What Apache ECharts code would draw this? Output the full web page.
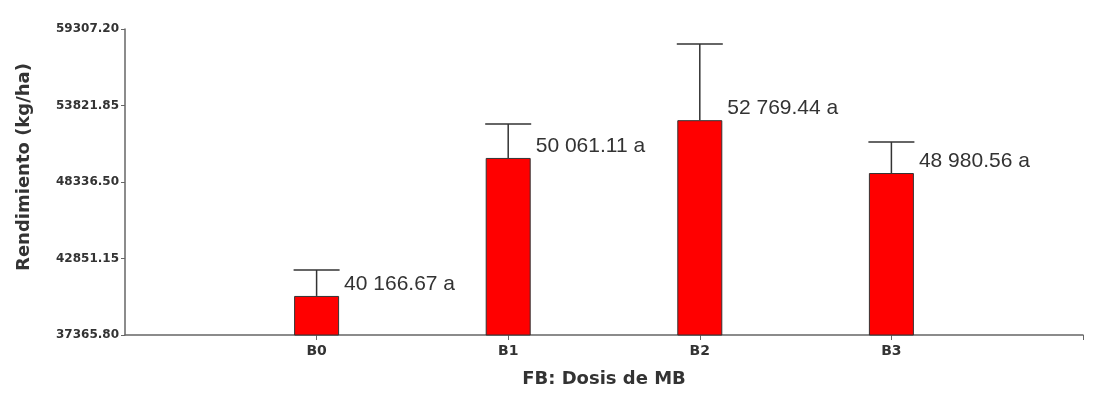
<!DOCTYPE html>
<html>
<head>
<meta charset="utf-8">
<script src="https://cdn.jsdelivr.net/npm/echarts@6/dist/echarts.min.js"></script>
<style>html,body{margin:0;padding:0;background:#fff;}#c{width:1113px;height:400px;}</style>
</head>
<body>
<div id="c"></div>
<script>
const categories = ['B0', 'B1', 'B2', 'B3'];
const means = [40166.67, 50061.11, 52769.44, 48980.56];
const errors = [1860, 2430, 5460, 2220];
const groups = ['a', 'a', 'a', 'a'];
const yMin = 37365.80, yMax = 59307.20, yStep = 5485.35;

const FONT = '"Liberation Sans", Arial, sans-serif';
const WIDE = '"DejaVu Sans", sans-serif';
const axisCats = [''].concat(categories, ['']);
const barData = ['-'].concat(means, ['-']);
const errData = means.map((m, i) => [i + 1, m, errors[i]]);

function fmt(v) {
  const parts = v.toFixed(2).split('.');
  return parts[0].replace(/\B(?=(\d{3})+(?!\d))/g, ' ') + '.' + parts[1];
}

const chart = echarts.init(document.getElementById('c'), null, {renderer: 'canvas'});
chart.setOption({
  animation: false,
  backgroundColor: '#fff',
  grid: {left: 125, right: 30, top: 29, bottom: 65, containLabel: false},
  xAxis: {
    type: 'category',
    data: axisCats,
    boundaryGap: false,
    name: 'FB: Dosis de MB',
    nameLocation: 'middle',
    nameGap: 35,
    nameTextStyle: {fontFamily: WIDE, fontWeight: 'bold', fontSize: 18, color: '#333'},
    axisLine: {lineStyle: {color: '#666', width: 1.5}},
    axisTick: {show: true, length: 5, alignWithLabel: true, interval: (i) => i > 0, lineStyle: {color: '#666'}},
    axisLabel: {interval: 0, fontFamily: WIDE, fontWeight: 'bold', fontSize: 14, color: '#333', margin: 9},
    splitLine: {show: false}
  },
  yAxis: {
    type: 'value',
    min: yMin, max: yMax, interval: yStep,
    name: 'Rendimiento (kg/ha)',
    nameLocation: 'middle',
    nameGap: 92,
    nameTextStyle: {fontFamily: WIDE, fontWeight: 'bold', fontSize: 18, color: '#333', padding: [0, 0, 0, 30]},
    axisLine: {show: true, lineStyle: {color: '#666', width: 1.5}},
    axisTick: {show: true, length: 4, lineStyle: {color: '#666'}},
    axisLabel: {fontFamily: WIDE, fontWeight: 'bold', fontSize: 12, color: '#333', margin: 6,
      formatter: (v) => v.toFixed(2)},
    splitLine: {show: false}
  },
  series: [
    {
      type: 'bar',
      data: barData,
      barWidth: 45,
      itemStyle: {color: '#ff0000', borderColor: '#333', borderWidth: 1},
      label: {
        show: true,
        position: [50, -12],
        verticalAlign: 'middle',
        fontFamily: FONT, fontSize: 21, color: '#333',
        formatter: (p) => fmt(p.value) + ' ' + groups[p.dataIndex - 1]
      },
      z: 2
    },
    {
      type: 'custom',
      data: errData,
      z: 3,
      renderItem: function (params, api) {
        const x = api.value(0), m = api.value(1), e = api.value(2);
        const p0 = api.coord([x, m]);
        const p1 = api.coord([x, m + e]);
        const hw = 23;
        return {
          type: 'group',
          children: [
            {type: 'line', shape: {x1: p0[0], y1: p0[1], x2: p1[0], y2: p1[1]}, style: {stroke: '#333', lineWidth: 1.5}},
            {type: 'line', shape: {x1: p1[0] - hw, y1: p1[1], x2: p1[0] + hw, y2: p1[1]}, style: {stroke: '#333', lineWidth: 1.5}}
          ]
        };
      }
    }
  ]
});
</script>
</body>
</html>
